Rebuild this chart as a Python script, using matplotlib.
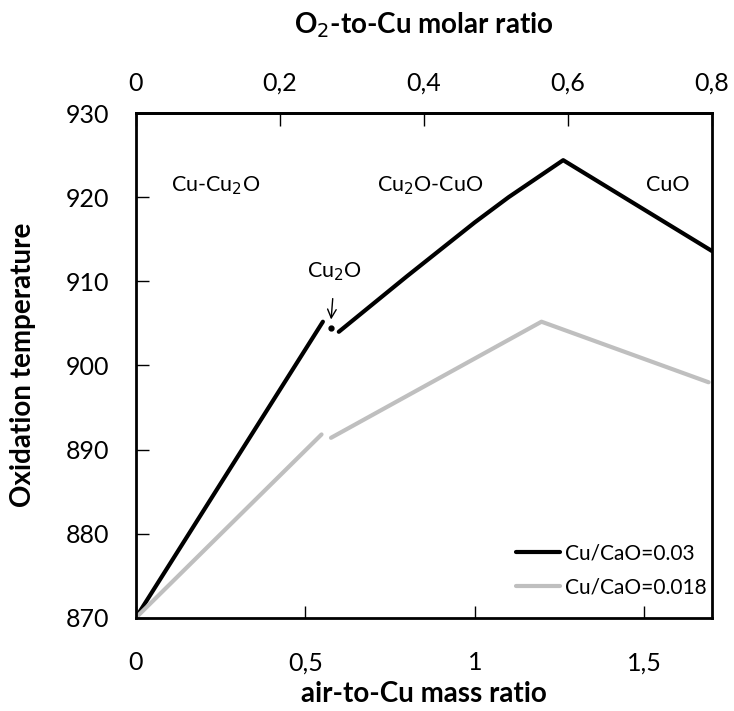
import matplotlib
matplotlib.use("Agg")
import matplotlib.pyplot as plt

plt.rcParams['font.family'] = ['Lato', 'DejaVu Sans']

# Data
black_seg1_x = [0.0, 0.552]
black_seg1_y = [870.0, 905.2]
black_dot_x = [0.576]
black_dot_y = [904.5]
black_seg2_x = [0.599, 0.8, 1.0, 1.1, 1.261, 1.70]
black_seg2_y = [904.0, 910.6, 917.0, 920.0, 924.4, 913.6]

gray_seg1_x = [0.0, 0.548]
gray_seg1_y = [870.0, 891.8]
gray_seg2_x = [0.576, 1.197, 1.69]
gray_seg2_y = [891.4, 905.2, 898.0]

x_ticks = [0, 0.5, 1, 1.5]
x_tick_labels = ['0', '0,5', '1', '1,5']
top_ticks = [0, 0.2, 0.4, 0.6, 0.8]
top_tick_labels = ['0', '0,2', '0,4', '0,6', '0,8']
y_ticks = [870, 880, 890, 900, 910, 920, 930]
ratio = 1.7 / 0.8

black = '#000000'
gray = '#BFBFBF'

fig = plt.figure(figsize=(7.34, 7.11), dpi=100)
ax = fig.add_axes([0.185, 0.131, 0.785, 0.710])

ax.plot(black_seg1_x, black_seg1_y, color=black, lw=3.0, solid_capstyle='round',
        label='Cu/CaO=0.03')
ax.plot(black_seg2_x, black_seg2_y, color=black, lw=3.0, solid_capstyle='round')
ax.plot(black_dot_x, black_dot_y, 'o', color=black, ms=3.5)
ax.plot(gray_seg1_x, gray_seg1_y, color=gray, lw=3.0, solid_capstyle='round',
        label='Cu/CaO=0.018')
ax.plot(gray_seg2_x, gray_seg2_y, color=gray, lw=3.0, solid_capstyle='round')

ax.set_xlim(0, 1.7)
ax.set_ylim(870, 930)
ax.set_xticks(x_ticks)
ax.set_xticklabels(x_tick_labels)
ax.set_yticks(y_ticks)
ax.tick_params(axis='both', direction='in', length=9, width=1, labelsize=18)
ax.tick_params(axis='x', pad=24)
ax.tick_params(axis='y', pad=19)
for s in ax.spines.values():
    s.set_linewidth(2)

sec = ax.secondary_xaxis('top', functions=(lambda v: v / ratio, lambda v: v * ratio))
sec.set_xticks(top_ticks)
sec.set_xticklabels(top_tick_labels)
sec.tick_params(direction='in', length=9, width=1, labelsize=18, pad=13)
sec.spines['top'].set_linewidth(2)

fig.text(0.5 * (0.185 + 0.970), 1 - 25 / 711, 'O$_2$-to-Cu molar ratio', fontsize=20,
         fontweight='bold', ha='center', va='center')
fig.text(0.5 * (0.185 + 0.970), 1 - 694 / 711, 'air-to-Cu mass ratio', fontsize=20,
         fontweight='bold', ha='center', va='center')
fig.text(23 / 734, 1 - 365 / 711, 'Oxidation temperature', fontsize=20,
         fontweight='bold', ha='center', va='center', rotation=90)

ax.text(0.234, 921.4, 'Cu-Cu$_2$O', fontsize=15.5, ha='center', va='center')
ax.text(0.87, 921.4, 'Cu$_2$O-CuO', fontsize=15.5, ha='center', va='center')
ax.text(1.57, 921.4, 'CuO', fontsize=15.5, ha='center', va='center')
ax.annotate('Cu$_2$O', xy=(0.576, 905.3), xytext=(0.587, 911.1), fontsize=15.5,
            ha='center', va='center',
            arrowprops=dict(arrowstyle='->', color='black', lw=1, shrinkA=9, shrinkB=1))

leg = ax.legend(loc='lower right', bbox_to_anchor=(0.991, 0.040), frameon=False,
                fontsize=15, handlelength=2.1, handletextpad=0.25, borderpad=0,
                borderaxespad=0, labelspacing=0.7)

fig.savefig('out.png', dpi=100)
